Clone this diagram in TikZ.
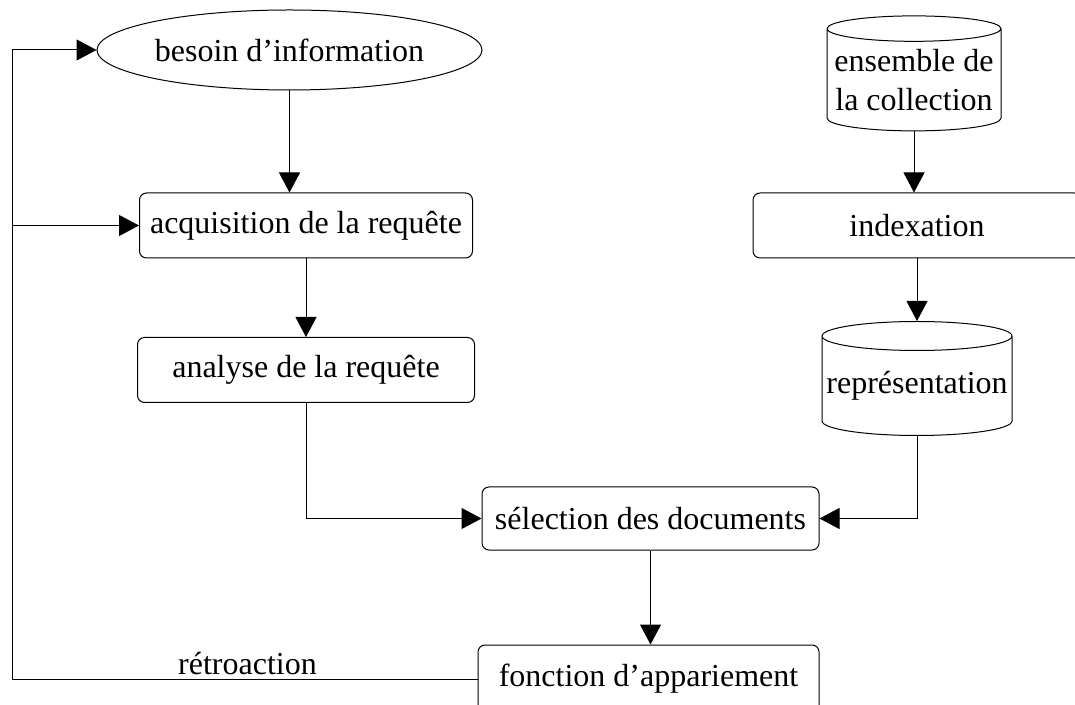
\documentclass[tikz,border=0pt]{standalone}
\usepackage{fontspec}
\setmainfont{Liberation Serif}
\usetikzlibrary{arrows.meta,shapes.geometric}

\begin{document}
\begin{tikzpicture}[x=1pt, y=1pt, line width=1pt,
    font=\fontsize{32}{39}\selectfont,
    box/.style = {draw, rounded corners=7pt, inner sep=0pt, minimum height=65pt},
    oval/.style = {draw, ellipse, inner sep=0pt},
    base/.style = {draw, cylinder, shape border rotate=90, aspect=0.16, inner sep=0pt, align=center},
    arr/.style = {-{Triangle[length=20pt, width=21pt]}}]
    \useasboundingbox (0,0) rectangle (1075,704);
    \node[oval, minimum width=385pt, minimum height=80pt] (bes) at (289.5,654) {besoin d’information};
    \node[box, minimum width=333pt] (acq) at (306,478.5) {acquisition de la requête};
    \node[box, minimum width=337pt] (ana) at (306,334) {analyse de la requête};
    \node[box, minimum width=337pt, minimum height=63pt] (sel) at (650.5,185.5) {sélection des documents};
    \node[box, minimum width=341pt, minimum height=68pt] (fon) at (648.5,25) {fonction d’appariement};
    \node[base, minimum width=174pt, minimum height=115pt] (col) at (914,624)
      {\smash{\raisebox{-9pt}{\begin{tabular}{@{}c@{}}ensemble de\\la collection\end{tabular}}}};
    \node[box, minimum width=328pt] (idx) at (917,478.5) {indexation};
    \node[base, minimum width=190pt, minimum height=114pt] (rep) at (917,318) {représentation};
    \node[anchor=base] (retro) at (247.5,30) {rétroaction};
    \coordinate (gauche) at (12,0);
      %
    \draw[arr] (bes.south) -- (bes.south |- acq.north);
    \draw[arr] (acq.south) -- (ana.north);
    \draw[arr] (ana.south) |- (sel.west);
    \draw[arr] (col.south) -- (col.south |- idx.north);
    \draw[arr] (idx.south) -- (rep.north);
    \draw[arr] (rep.south) |- (sel.east);
    \draw[arr] (sel.south) -- (sel.south |- fon.north);
    \draw[arr] (fon.west) -- (fon.west -| gauche) -- (bes.west -| gauche) -- (bes.west);
    \draw[arr] (acq.west -| gauche) -- (acq.west);
  \end{tikzpicture}
\end{document}
